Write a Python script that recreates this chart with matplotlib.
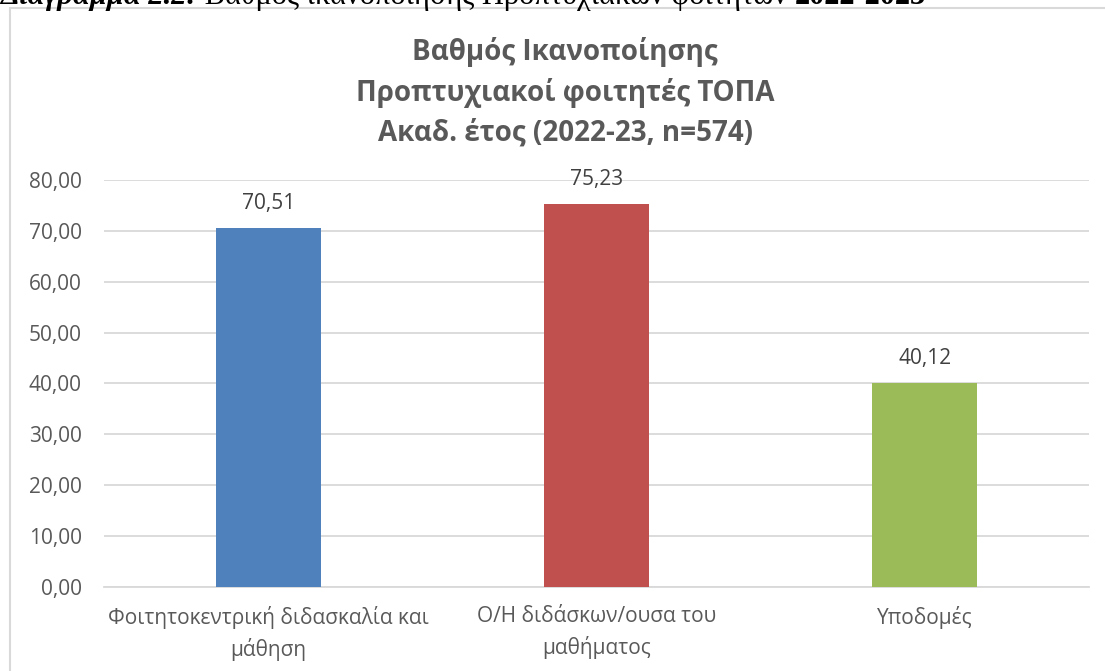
import matplotlib
matplotlib.use("Agg")
import matplotlib.pyplot as plt
from matplotlib.patches import Rectangle

# Data
categories = ["Φοιτητοκεντρική διδασκαλία και\nμάθηση",
              "Ο/Η διδάσκων/ουσα του\nμαθήματος",
              "Υποδομές"]
values = [70.51, 75.23, 40.12]
colors = ["#4f81bd", "#c0504d", "#9bbb59"]
yticks = [0, 10, 20, 30, 40, 50, 60, 70, 80]
title_lines = ["Βαθμός Ικανοποίησης",
               "Προπτυχιακοί φοιτητές ΤΟΠΑ",
               "Ακαδ. έτος (2022-23, n=574)"]
header_parts = [("Διάγραμμα 2.2:", 'bold', 'italic'),
                (" Βαθμός ικανοποίησης Προπτυχιακών φοιτητών ", 'normal', 'normal'),
                ("2022-2023", 'bold', 'normal')]

plt.rcParams['font.family'] = ['Open Sans', 'DejaVu Sans']

W, H = 1105, 671
fig = plt.figure(figsize=(W / 100, H / 100), dpi=100)

# chart border (light grey frame, partly off the right/bottom edge)
fig.patches.append(Rectangle((10 / W, -0.1), 1.2, (H - 8) / H + 0.1,
                             transform=fig.transFigure, fill=False,
                             edgecolor="#d9d9d9", linewidth=1.5))

# document caption above the chart, cut by the top edge
serif = ['Liberation Serif', 'DejaVu Serif']
prev = None
for txt, wt, st in header_parts:
    if prev is None:
        prev = fig.text(0.0, (H - 4) / H, txt, family=serif, fontsize=22,
                        fontweight=wt, fontstyle=st, color='black',
                        ha='left', va='baseline')
    else:
        prev = fig.text(0, 0, txt, family=serif, fontsize=22, fontweight=wt,
                        fontstyle=st, color='black', ha='left', va='baseline',
                        transform=matplotlib.transforms.offset_copy(
                            prev.get_transform(), fig=fig, x=0, y=0))
        # place right after the previous piece
        fig.canvas.draw()
        bb = fig.texts[-2].get_window_extent()
        prev.set_transform(fig.transFigure)
        prev.set_position((bb.x1 / fig.bbox.width, (H - 4) / H))

ax = fig.add_axes([104 / W, (H - 587) / H, (1089 - 104) / W, (587 - 180) / H])
x = list(range(len(categories)))
bars = ax.bar(x, values, width=0.32, color=colors, zorder=3)

for b, v in zip(bars, values):
    ax.annotate(f"{v:.2f}".replace(".", ","), (b.get_x() + b.get_width() / 2, v),
                xytext=(0, 10), textcoords='offset points', ha='center', va='bottom',
                fontsize=15, color='#404040')

ax.set_xlim(-0.5, len(categories) - 0.5)
ax.set_ylim(0, 80)
ax.set_yticks(yticks)
ax.set_yticklabels([f"{t:.2f}".replace(".", ",") for t in yticks])
ax.set_xticks(x)
ax.set_xticklabels(categories, linespacing=1.45)
ax.tick_params(axis='y', length=0, pad=16, labelsize=15, labelcolor='#595959')
ax.tick_params(axis='x', length=0, pad=14, labelsize=15, labelcolor='#595959')
ax.grid(axis='y', color='#d9d9d9', linewidth=1.3, zorder=0)
for s in ['top', 'right', 'left']:
    ax.spines[s].set_visible(False)
ax.spines['bottom'].set_color('#d9d9d9')
ax.spines['bottom'].set_linewidth(1.3)

ys = [60, 101, 141]
for line, yy in zip(title_lines, ys):
    fig.text(565 / W, (H - yy) / H, line, ha='center', va='baseline',
             fontsize=20, fontweight='bold', color='#595959')

fig.savefig("out.png", dpi=100)
